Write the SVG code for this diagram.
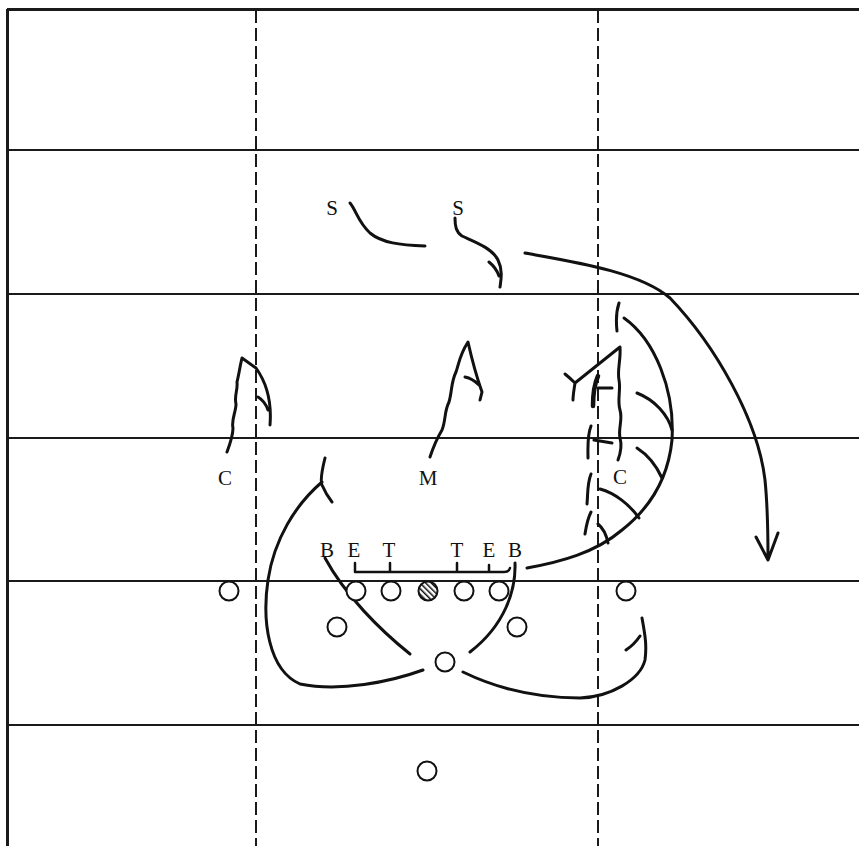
<svg xmlns="http://www.w3.org/2000/svg" width="859" height="846" viewBox="0 0 859 846">
<defs>
<style>
.field{stroke:#1a1a1a;stroke-width:2;fill:none}
.border{stroke:#1a1a1a;stroke-width:3;fill:none}
.dash{stroke:#1a1a1a;stroke-width:2;stroke-dasharray:13,5;fill:none}
.route{stroke:#111;stroke-width:3;fill:none;stroke-linecap:round;stroke-linejoin:round}
.thick{stroke:#111;stroke-width:4.5;fill:none;stroke-linecap:round}
.player{stroke:#111;stroke-width:2;fill:#fff}
.center{stroke:#111;stroke-width:2;fill:url(#hatch)}
.lbl{font-family:"Liberation Serif","Times New Roman",serif;font-size:21px;fill:#111;text-anchor:middle}
</style>
<pattern id="hatch" width="4" height="4" patternUnits="userSpaceOnUse" patternTransform="rotate(-45)">
<rect width="4" height="4" fill="#fff"/>
<line x1="0" y1="0" x2="0" y2="4" stroke="#111" stroke-width="3"/>
</pattern>
</defs>
<rect width="859" height="846" fill="#fff"/>
<g id="field">
<path class="border" d="M7,9.5 H859 M7.5,9 V846"/>
<path class="field" d="M7,150 H859 M7,294 H859 M7,438 H859 M7,581 H859 M7,725 H859"/>
<path class="dash" d="M256,10 V846 M598,10 V846"/>
</g>
<g id="connectors">
<path class="route" d="M350,203 C356,210 358,222 370,233 C382,243 400,245 425,246"/>
<path class="route" d="M455,218 C455,226 456,232 462,236 C475,242 492,248 498,260 C503,270 501,280 500,287 M489,262 C494,266 497,270 499,276"/>
<path class="route" d="M525,253 C575,262 640,272 670,298 C715,345 758,420 765,480 C768,510 768,535 768,558 M756,537 L768,560 L778,533"/>
<path class="route" d="M227,452 C230,444 233,436 233,428 C231,420 236,412 236,404 C234,396 238,390 237,382 C239,374 240,366 242,358 L256,368 C266,382 272,400 270,425 M258,397 C263,400 266,404 268,410"/>
<path class="route" d="M430,457 C433,448 436,440 442,430 C446,420 444,412 449,402 C452,392 451,382 456,372 C459,364 459,356 468,342 C472,360 476,375 482,392 L480,400 M465,377 C470,378 474,380 479,385"/>
<path class="route" d="M618,460 C621,452 622,445 620,438 C618,428 623,420 620,410 C617,400 621,390 619,380 C617,370 621,360 620,347 L575,383 M565,374 C570,378 573,381 575,383 C574,390 573,395 573,400"/>
<path class="route" d="M527,568 C560,562 595,553 622,530 C650,508 668,480 672,440 C675,390 655,340 624,318 M619,303 C616,312 616,322 617,331"/>
<path class="route" d="M637,393 C655,400 668,415 672,430 M637,448 C648,455 656,465 662,478 M600,489 C615,493 630,505 639,518 M598,524 C603,528 606,533 608,543"/>
<path class="thick" d="M598,376 C594,385 593,395 593,406"/>
<path class="route" d="M598,388 H612 M591,426 C587,436 588,448 588,458 M594,440 L612,443 M591,474 C587,484 588,494 587,504 M591,512 C587,520 586,528 585,534"/>
<path class="route" d="M423,670 C390,682 340,692 300,684 C268,670 262,620 268,580 C274,540 295,505 322,482 M325,458 C322,470 320,480 322,485 C325,492 328,497 332,502"/>
<path class="route" d="M463,672 C500,690 540,698 580,698 C610,697 640,680 645,660 C647,645 645,635 642,618 M626,650 C632,646 636,642 640,636"/>
<path class="route" d="M325,558 C345,595 380,630 410,654"/>
<path class="route" d="M515,563 C516,590 505,625 470,652"/>
<path class="route" style="stroke-width:2.5" d="M355,563 V572 H504 Q509,572 510,568 M390,563 V572 M457,563 V572 M489,565 V572"/>
</g>
<g id="players">
<circle class="player" cx="229" cy="591" r="9.5"/>
<circle class="player" cx="356" cy="591" r="9.5"/>
<circle class="player" cx="391" cy="591" r="9.5"/>
<circle class="center" cx="428" cy="591" r="9.5"/>
<circle class="player" cx="464" cy="591" r="9.5"/>
<circle class="player" cx="499" cy="591" r="9.5"/>
<circle class="player" cx="626" cy="591" r="9.5"/>
<circle class="player" cx="337" cy="627" r="9.5"/>
<circle class="player" cx="517" cy="627" r="9.5"/>
<circle class="player" cx="445" cy="662" r="9.5"/>
<circle class="player" cx="427" cy="771" r="9.5"/>
</g>
<g id="labels">
<text class="lbl" x="332" y="215">S</text>
<text class="lbl" x="458" y="215">S</text>
<text class="lbl" x="225" y="485">C</text>
<text class="lbl" x="428" y="485">M</text>
<text class="lbl" x="620" y="484">C</text>
<text class="lbl" x="327" y="557">B</text>
<text class="lbl" x="354" y="557">E</text>
<text class="lbl" x="389" y="557">T</text>
<text class="lbl" x="457" y="557">T</text>
<text class="lbl" x="489" y="557">E</text>
<text class="lbl" x="515" y="557">B</text>
</g>
</svg>
